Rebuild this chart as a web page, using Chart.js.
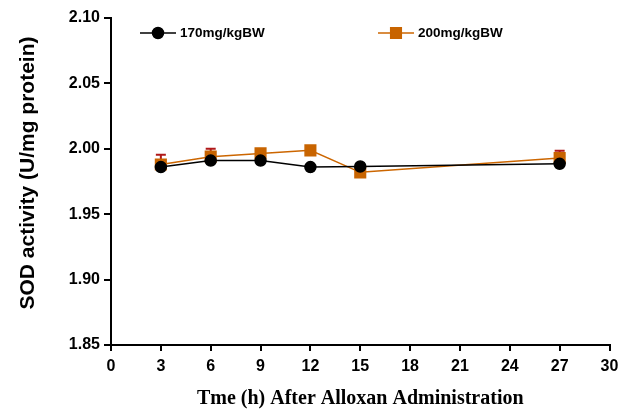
<!DOCTYPE html>
<html>
<head>
<meta charset="utf-8">
<script src="https://cdn.jsdelivr.net/npm/chart.js@4/dist/chart.umd.min.js"></script>
<style>
  body { margin: 0; background: #fff; }
  #box { width: 627px; height: 409px; }
</style>
</head>
<body>
<div id="box"><canvas id="sodChart"></canvas></div>
<script>
// données
const hours = [3, 6, 9, 12, 15, 27];
const dose170 = [1.986, 1.991, 1.991, 1.986, 1.9865, 1.9885];
const dose200 = [1.988, 1.994, 1.9965, 1.9988, 1.982, 1.993];
const err200 = [0.0075, 0.006, 0, 0, 0, 0.0055];
const xTicks = [0, 3, 6, 9, 12, 15, 18, 21, 24, 27, 30];
const yTicks = [1.85, 1.90, 1.95, 2.00, 2.05, 2.10];
const yTitle = 'SOD activity (U/mg protein)';

const toPoints = (ys) => hours.map((h, i) => ({ x: h, y: ys[i] }));

// barres d'erreur (seulement la moitié haute, le bas est caché par le marqueur)
const errorBars = {
  id: 'errorBars',
  beforeDatasetsDraw(chart) {
    const { ctx, scales: { x, y } } = chart;
    ctx.save();
    ctx.strokeStyle = '#b01818';
    ctx.lineWidth = 2;
    hours.forEach((h, i) => {
      if (!err200[i]) return;
      const px = x.getPixelForValue(h);
      const top = y.getPixelForValue(dose200[i] + err200[i]);
      const mid = y.getPixelForValue(dose200[i]);
      ctx.beginPath();
      ctx.moveTo(px, top); ctx.lineTo(px, mid);
      ctx.moveTo(px - 5, top); ctx.lineTo(px + 5, top);
      ctx.stroke();
    });
    ctx.restore();
  }
};

// légende façon GraphPad + titre de l'axe y
const lineLegend = {
  id: 'lineLegend',
  afterDraw(chart) {
    const ctx = chart.ctx;
    const spots = [140, 378];
    ctx.save();
    ctx.font = 'bold 13.5px "Liberation Sans", Arial, sans-serif';
    ctx.textBaseline = 'middle';
    chart.data.datasets.forEach((ds, i) => {
      const x0 = spots[i], yc = 33;
      ctx.strokeStyle = ds.borderColor;
      ctx.lineWidth = 1.5;
      ctx.beginPath(); ctx.moveTo(x0, yc); ctx.lineTo(x0 + 36, yc); ctx.stroke();
      ctx.fillStyle = ds.pointBackgroundColor;
      ctx.strokeStyle = ds.pointBorderColor;
      Chart.helpers.drawPoint(ctx, {
        pointStyle: ds.pointStyle, radius: ds.pointRadius, borderWidth: 1
      }, x0 + 18, yc);
      ctx.fillStyle = '#000';
      ctx.fillText(ds.label, x0 + 40, yc);
    });

    ctx.translate(28, 173);
    ctx.rotate(-Math.PI / 2);
    ctx.font = 'bold 21px "Liberation Sans", Arial, sans-serif';
    ctx.textAlign = 'center';
    ctx.fillText(yTitle, 0, 0);
    ctx.restore();
  }
};

new Chart(document.getElementById('sodChart'), {
  type: 'line',
  data: {
    datasets: [
      {
        label: '170mg/kgBW',
        data: toPoints(dose170),
        borderColor: '#000',
        borderWidth: 1.5,
        pointStyle: 'circle',
        pointRadius: 5.5,
        pointBackgroundColor: '#000',
        pointBorderColor: '#000',
        tension: 0
      },
      {
        label: '200mg/kgBW',
        data: toPoints(dose200),
        borderColor: '#cc6600',
        borderWidth: 1.5,
        pointStyle: 'rect',
        pointRadius: 7.5,
        pointBackgroundColor: '#c86400',
        pointBorderColor: '#c86400',
        tension: 0
      }
    ]
  },
  options: {
    responsive: true,
    maintainAspectRatio: false,
    animation: false,
    layout: { padding: { left: 0, top: 18, right: 17.5, bottom: 0 } },
    plugins: { legend: { display: false }, tooltip: { enabled: false } },
    scales: {
      x: {
        type: 'linear',
        min: 0, max: 30,
        afterBuildTicks: (s) => { s.ticks = xTicks.map(v => ({ value: v })); },
        afterFit: (s) => { s.height = 64; },
        border: { display: true, color: '#000', width: 2 },
        grid: { drawOnChartArea: false, drawTicks: true, tickLength: 6, color: '#000', lineWidth: 2 },
        ticks: {
          color: '#000', padding: 6,
          font: { family: '"Liberation Sans", Arial, sans-serif', size: 16, weight: 'bold' }
        },
        title: {
          display: true,
          text: 'Tme (h) After Alloxan Administration',
          color: '#000',
          padding: { top: 2, bottom: -2 },
          font: { family: '"Liberation Serif", "Times New Roman", serif', size: 20, weight: 'bold' }
        }
      },
      y: {
        min: 1.85, max: 2.10,
        afterBuildTicks: (s) => { s.ticks = yTicks.map(v => ({ value: v })); },
        afterFit: (s) => { s.width = 111; },
        border: { display: true, color: '#000', width: 2 },
        grid: { drawOnChartArea: false, drawTicks: true, tickLength: 7, color: '#000', lineWidth: 2 },
        ticks: {
          color: '#000', padding: 4,
          callback: (v) => v.toFixed(2),
          font: { family: '"Liberation Sans", Arial, sans-serif', size: 16, weight: 'bold' }
        }
      }
    }
  },
  plugins: [errorBars, lineLegend]
});
</script>
</body>
</html>
